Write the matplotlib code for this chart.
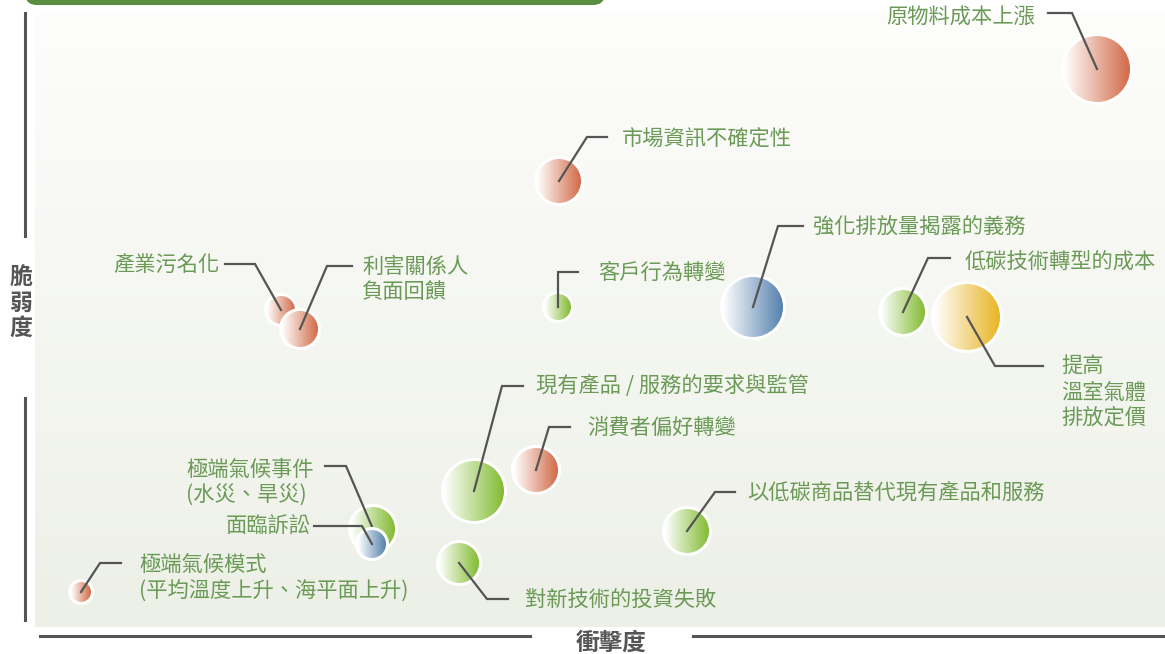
import numpy as np
import matplotlib
matplotlib.use("Agg")
import matplotlib.pyplot as plt
from matplotlib.patches import Circle, FancyBboxPatch
from matplotlib.colors import to_rgb

# risk items: impact (x), vulnerability (y), bubble radius, colour group
labels = [
    "原物料成本上漲", "市場資訊不確定性", "產業污名化", "利害關係人\n負面回饋",
    "客戶行為轉變", "強化排放量揭露的義務", "低碳技術轉型的成本",
    "提高\n溫室氣體\n排放定價", "現有產品 / 服務的要求與監管", "消費者偏好轉變",
    "極端氣候事件\n(水災、旱災)", "面臨訴訟", "極端氣候模式\n(平均溫度上升、海平面上升)",
    "對新技術的投資失敗", "以低碳商品替代現有產品和服務",
]
impact = [1097, 559, 281, 300, 558, 753, 903, 967, 474, 536, 373, 372, 81, 459, 687]
vulnerability = [585, 473, 344, 325, 347, 347, 342, 337, 163, 184, 125, 110, 62, 91, 123]
radius = [33, 22, 14, 18, 13, 30, 22, 33, 30, 22, 22, 14, 10, 20, 22]
group = ["o", "o", "o", "o", "g", "b", "g", "y", "g", "o", "g", "b", "o", "g", "g"]

colors = {"o": "#d26a47", "g": "#82bb32", "b": "#5581ae", "y": "#e8b524"}
TXT = "#6a9a56"
GREY = "#555555"
FONT = ["Noto Sans CJK TC", "DejaVu Sans"]

# label layout: text left x, first line y, leader (start x, elbow x, y)
lab_pos = [(886, 636), (622, 515), (113, 389), (362, 387), (598, 381), (813, 427),
           (965, 392), (1061, 287), (536, 268), (587, 226), (186, 184), (226, 127),
           (139, 89), (525, 54), (747, 161)]
leaders = [(1048, 1072, 641), (607, 587, 517), (225, 255, 390), (352, 327, 388),
           (578, 558, 382), (803, 778, 428), (950, 928, 396), (1043, 995, 288),
           (523, 502, 268), (570, 549, 227), (325, 346, 188), (314, 362, 128),
           (121, 100, 91), (508, 487, 55), (735, 715, 162)]

fig = plt.figure(figsize=(11.65, 6.54), dpi=100)
ax = fig.add_axes([0, 0, 1, 1])
ax.set_xlim(0, 1165)
ax.set_ylim(0, 654)
ax.axis("off")

# background gradient of plot area
top = np.array(to_rgb("#fdfdfc"))
bot = np.array(to_rgb("#edf0e7"))
t = np.linspace(0, 1, 200)[:, None]
bg = (top * (1 - t) + bot * t)[:, None, :]
ax.imshow(bg, extent=[35, 1165, 27, 641], origin="upper", aspect="auto", zorder=0)

# top green bar
ax.add_patch(FancyBboxPatch((25, 649), 580, 30, boxstyle="round,pad=0,rounding_size=12",
                            fc="#5a8f42", ec="none", zorder=1))

# axis decorations
ax.plot([25, 25], [641, 418], color=GREY, lw=2.2, zorder=1)
ax.plot([25, 25], [256, 34], color=GREY, lw=2.2, zorder=1)
ax.plot([40, 530], [18, 18], color=GREY, lw=2.2, zorder=1)
ax.plot([693, 1165], [18, 18], color=GREY, lw=2.2, zorder=1)
ax.text(611, 11, "衝擊度", family=FONT, fontsize=17, fontweight="bold", color=GREY,
        ha="center", va="center")
ax.text(21, 351, "脆\n弱\n度", family=FONT, fontsize=16.5, fontweight="bold", color=GREY,
        ha="center", va="center", linespacing=1.15)

s = np.linspace(0, 1, 256)[:, None]
for i, lab in enumerate(labels):
    x, y, r = impact[i], vulnerability[i], radius[i]
    z = 2 + 2 * i
    c = np.array(to_rgb(colors[group[i]]))
    grad = (np.ones(3) * (1 - s) + c * s)[None, :, :]
    ax.add_patch(Circle((x, y), r + 3, fc="white", ec="none", zorder=z))
    im = ax.imshow(grad, extent=[x - r, x + r, y - r, y + r], aspect="auto",
                   interpolation="bilinear", zorder=z)
    clip = Circle((x, y), r, transform=ax.transData)
    im.set_clip_path(clip)

    sx, ex, ly = leaders[i]
    ax.plot([sx, ex, x], [ly, ly, y], color=GREY, lw=1.6, zorder=z + 1,
            solid_joinstyle="miter")

    tx, ty = lab_pos[i]
    for k, line in enumerate(lab.split("\n")):
        ax.text(tx, ty - 25.5 * k, line, family=FONT, fontsize=15.3, color=TXT,
                ha="left", va="center", zorder=40)

ax.set_xlim(0, 1165)
ax.set_ylim(0, 654)
fig.savefig("out.png", dpi=100)
